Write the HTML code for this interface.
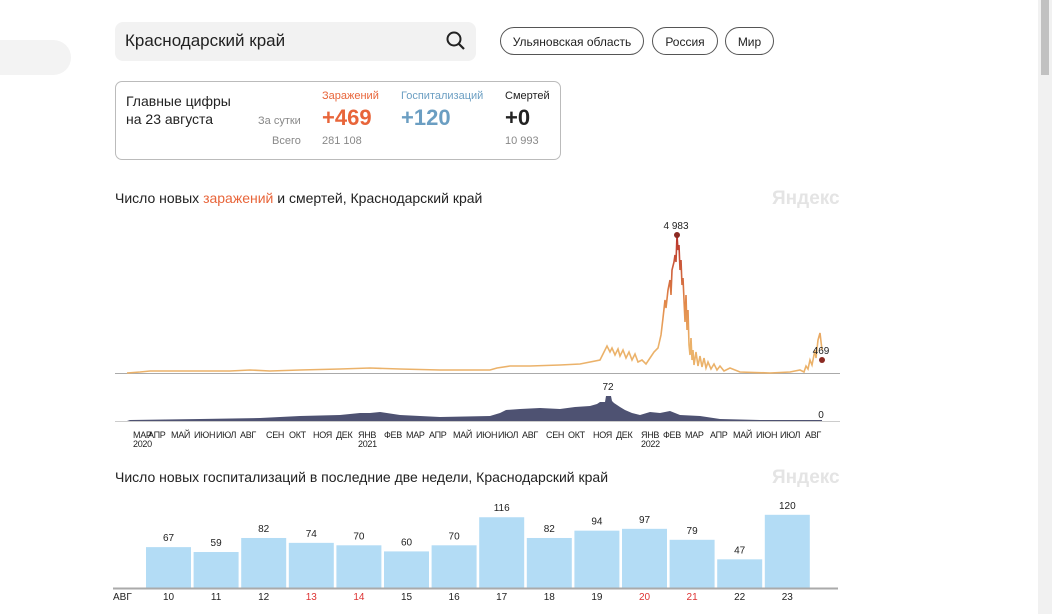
<!DOCTYPE html>
<html><head><meta charset="utf-8"><style>
body{margin:0;width:1052px;height:614px;background:#fff;font-family:"Liberation Sans",sans-serif;position:relative;overflow:hidden;color:#222}
.a{position:absolute}
.pill{position:absolute;top:27px;height:28px;border:1px solid #555;border-radius:15px;font-size:12px;line-height:28px;text-align:center;box-sizing:border-box}
</style></head><body>
<div class="a" style="left:0;top:40px;width:71px;height:35px;background:#f3f3f3;border-radius:0 18px 18px 0"></div>
<div class="a" style="left:1038px;top:0;width:14px;height:614px;background:#f1f1f1"></div>
<div class="a" style="left:1041px;top:0;width:8px;height:75px;background:#c1c1c1"></div>
<div class="a" style="left:115px;top:22px;width:361px;height:39px;background:#f2f2f2;border-radius:8px"></div>
<div class="a" style="left:125px;top:31px;font-size:17px">Краснодарский край</div>
<svg class="a" style="left:446px;top:31px" width="20" height="20"><circle cx="8" cy="8" r="6.5" fill="none" stroke="#222" stroke-width="2"/><line x1="13" y1="13" x2="18" y2="18" stroke="#222" stroke-width="2.2"/></svg>
<div class="pill" style="left:500px;width:144px">Ульяновская область</div>
<div class="pill" style="left:652px;width:66px">Россия</div>
<div class="pill" style="left:725px;width:49px">Мир</div>
<div class="a" style="left:115px;top:81px;width:446px;height:79px;border:1px solid #bbb;border-radius:7px;box-sizing:border-box"></div>
<div class="a" style="left:126px;top:92px;font-size:14px;line-height:18px">Главные цифры<br>на 23 августа</div>
<div class="a" style="left:258px;top:115px;font-size:11px;color:#888">За сутки</div>
<div class="a" style="left:272px;top:135px;font-size:11px;color:#888">Всего</div>
<div class="a" style="left:322px;top:90px;font-size:11px;color:#e8653a">Заражений</div>
<div class="a" style="left:322px;top:105px;font-size:22px;font-weight:bold;color:#e8653a">+469</div>
<div class="a" style="left:322px;top:135px;font-size:11px;color:#888">281 108</div>
<div class="a" style="left:401px;top:90px;font-size:11px;color:#6b9ec2">Госпитализаций</div>
<div class="a" style="left:401px;top:105px;font-size:22px;font-weight:bold;color:#6b9ec2">+120</div>
<div class="a" style="left:505px;top:90px;font-size:11px;color:#222">Смертей</div>
<div class="a" style="left:505px;top:105px;font-size:22px;font-weight:bold;color:#222">+0</div>
<div class="a" style="left:505px;top:135px;font-size:11px;color:#888">10 993</div>
<div class="a" style="left:115px;top:190px;font-size:14px">Число новых <span style="color:#e8653a">заражений</span> и смертей, Краснодарский край</div>
<div class="a" style="left:772px;top:188px;font-size:19px;font-weight:bold;color:#e4e4e4">Яндекс</div>
<svg class="a" style="left:0;top:0" width="1052" height="614">
<defs><linearGradient id="g" x1="0" y1="235" x2="0" y2="373" gradientUnits="userSpaceOnUse"><stop offset="0" stop-color="#b8322b"/><stop offset="0.5" stop-color="#e2894a"/><stop offset="0.8" stop-color="#ebb26a"/></linearGradient></defs>
<line x1="115" y1="373.5" x2="840" y2="373.5" stroke="#aaa"/>
<polyline fill="none" stroke="url(#g)" stroke-width="1.6" points="127,373 140,372 150,371 230,371 250,370 270,371 300,370 340,369 370,368 400,369 440,370 490,370 497,368 510,366 530,366 560,365 580,364 600,360 607,346 610,352 612,348 615,355 618,349 620,356 623,350 626,358 629,352 632,360 635,354 638,362 642,360 646,364 650,358 654,352 658,348 661,335 663,318 665,300 666,308 668,290 670,280 671,295 672,270 674,262 675,255 676,262 677,235 678,250 679,245 680,270 681,260 682,285 683,278 684,300 685,322 686,295 687,330 688,310 689,345 690,355 691,338 692,360 693,350 694,365 696,352 698,366 700,356 702,367 704,358 706,368 708,362 711,369 714,364 717,370 720,366 724,371 730,368 740,372 770,373 790,372 800,370 804,372 806,366 808,369 810,360 812,365 815,350 816,358 818,340 820,333 822,350"/>
<circle cx="677" cy="235" r="3" fill="#8b2a22"/>
<circle cx="822" cy="360" r="3" fill="#8b2a22"/>
<text x="676" y="229" font-size="10" text-anchor="middle" fill="#222" font-family="Liberation Sans">4 983</text>
<text x="821" y="354" font-size="10" text-anchor="middle" fill="#222" font-family="Liberation Sans">469</text>
<line x1="115" y1="421.5" x2="840" y2="421.5" stroke="#ccc"/>
<polygon fill="#4e5272" points="127,421 130,420 200,419 260,418 300,416 340,415 360,413 370,413 380,412 400,415 440,417 490,416 500,413 506,410 520,409 540,408 560,409 575,407 590,406 597,404 600,402 605,402 606,396 611,396 612,401 614,403 620,407 625,410 632,413 640,415 650,412 660,413 670,411 680,415 700,416 720,419 760,420 822,420 822,421"/>
<text x="608" y="390" font-size="10" text-anchor="middle" fill="#222" font-family="Liberation Sans">72</text>
<text x="821" y="418" font-size="10" text-anchor="middle" fill="#222" font-family="Liberation Sans">0</text>
<g font-size="9" fill="#222" font-family="Liberation Sans" letter-spacing="-0.3">
<text x="133" y="438">МАР</text><text x="148" y="438">АПР</text><text x="171" y="438">МАЙ</text><text x="194" y="438">ИЮН</text><text x="216" y="438">ИЮЛ</text><text x="240" y="438">АВГ</text><text x="266" y="438">СЕН</text><text x="289" y="438">ОКТ</text><text x="313" y="438">НОЯ</text><text x="336" y="438">ДЕК</text><text x="358" y="438">ЯНВ</text><text x="384" y="438">ФЕВ</text><text x="406" y="438">МАР</text><text x="429" y="438">АПР</text><text x="453" y="438">МАЙ</text><text x="476" y="438">ИЮН</text><text x="498" y="438">ИЮЛ</text><text x="522" y="438">АВГ</text><text x="546" y="438">СЕН</text><text x="568" y="438">ОКТ</text><text x="593" y="438">НОЯ</text><text x="616" y="438">ДЕК</text><text x="641" y="438">ЯНВ</text><text x="663" y="438">ФЕВ</text><text x="685" y="438">МАР</text><text x="710" y="438">АПР</text><text x="733" y="438">МАЙ</text><text x="756" y="438">ИЮН</text><text x="780" y="438">ИЮЛ</text><text x="805" y="438">АВГ</text>
<text x="133" y="447">2020</text><text x="358" y="447">2021</text><text x="641" y="447">2022</text>
</g>
<g id="bars" font-family="Liberation Sans"></g>
<line x1="113" y1="588.5" x2="838" y2="588.5" stroke="#aaa" stroke-width="2"/>
<text x="113" y="600" font-size="10" fill="#222" font-family="Liberation Sans">АВГ</text>
</svg>
<div class="a" style="left:115px;top:469px;font-size:14px">Число новых госпитализаций в последние две недели, Краснодарский край</div>
<div class="a" style="left:772px;top:467px;font-size:19px;font-weight:bold;color:#e4e4e4">Яндекс</div>
<script>
var v=[67,59,82,74,70,60,70,116,82,94,97,79,47,120],g=document.getElementById('bars'),s='';
for(var i=0;i<14;i++){var x=146+i*47.6,h=v[i]*0.61,y=588-h,d=10+i,red=(d==13||d==14||d==20||d==21);
s+='<rect x="'+x+'" y="'+y+'" width="45" height="'+h+'" fill="#b3dcf5"/>';
s+='<text x="'+(x+22.5)+'" y="'+(y-6)+'" font-size="10" text-anchor="middle" fill="#222">'+v[i]+'</text>';
s+='<text x="'+(x+22.5)+'" y="600" font-size="10" text-anchor="middle" fill="'+(red?'#d33':'#222')+'">'+d+'</text>';}
g.innerHTML=s;
</script>
</body></html>
